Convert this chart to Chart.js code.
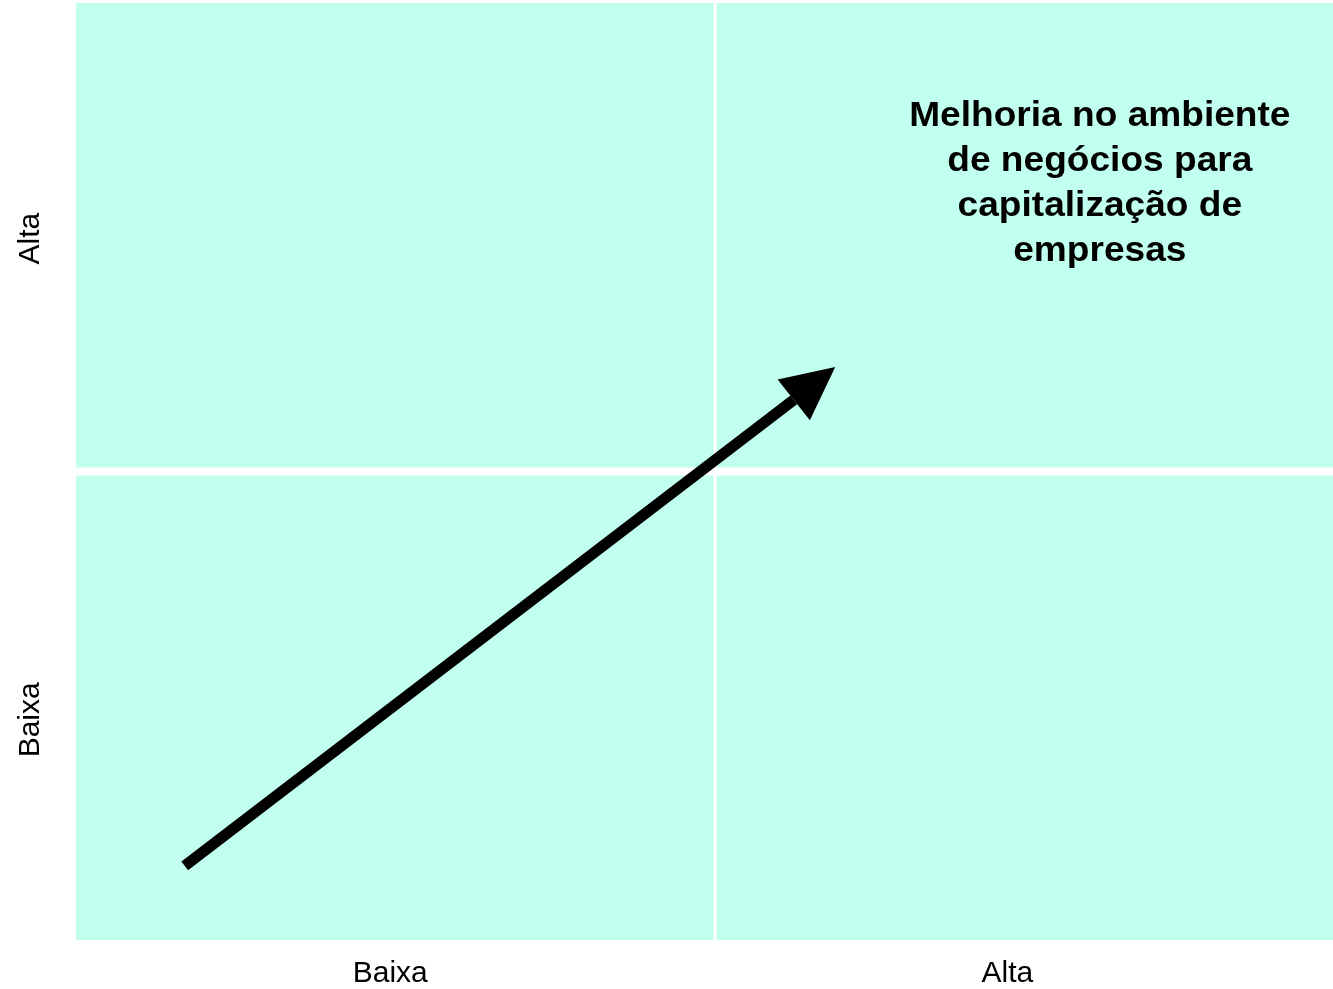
<!DOCTYPE html>
<html>
<head>
<meta charset="utf-8">
<script src="https://cdn.jsdelivr.net/npm/chart.js@4/dist/chart.umd.min.js"></script>
<style>
  body { margin: 0; background: #fff; }
  #wrap { width: 1333px; height: 989px; }
</style>
</head>
<body>
<div id="wrap"><canvas id="quadChart"></canvas></div>
<script>
// Axis categories (tick labels) and where they sit on the 0..2 scales
const xTickLabels = ['Baixa', 'Alta'];
const xTickValues = [0.5, 1.482];
const yTickLabels = ['Baixa', 'Alta'];
const yTickValues = [0.47, 1.497];

// Quadrant dividers
const xDivider = 1.017;
const yDivider = 1.0;

// Arrow: shaft start, shaft end, head tip
const arrowX = [0.173, 1.142, 1.208];
const arrowY = [0.158, 1.153, 1.223];

// Annotation in the top-right quadrant
const noteLines = ['Melhoria no ambiente', 'de negócios para', 'capitalização de', 'empresas'];
const noteX = 1.629;
const noteY = 1.759;

const mint = 'rgb(193, 255, 238)';
const fontFamily = '"Liberation Sans", Arial, sans-serif';

const shaftPoints = [0, 1].map(i => ({ x: arrowX[i], y: arrowY[i] }));

// Quadrant background, white dividers, y labels, arrow head and annotation
const quadrantPlugin = {
    id: 'quadrants',
    beforeDatasetsDraw(chart) {
        const { ctx, chartArea, scales } = chart;
        ctx.save();
        ctx.fillStyle = mint;
        ctx.fillRect(chartArea.left, chartArea.top, chartArea.right - chartArea.left, chartArea.bottom - chartArea.top);
        ctx.fillStyle = '#ffffff';
        const vx = scales.x.getPixelForValue(xDivider);
        ctx.fillRect(vx - 1.5, chartArea.top, 3, chartArea.bottom - chartArea.top);
        const hy = scales.y.getPixelForValue(yDivider);
        ctx.fillRect(chartArea.left, hy - 4, chartArea.right - chartArea.left, 8);

        // rotated y tick labels
        ctx.fillStyle = '#000';
        ctx.font = '30px ' + fontFamily;
        ctx.textAlign = 'center';
        ctx.textBaseline = 'alphabetic';
        yTickValues.forEach((v, i) => {
            ctx.save();
            ctx.translate(39, scales.y.getPixelForValue(v));
            ctx.rotate(-Math.PI / 2);
            ctx.fillText(yTickLabels[i], 0, 0);
            ctx.restore();
        });
        ctx.restore();
    },
    afterDatasetsDraw(chart) {
        const { ctx, scales } = chart;
        const bx = scales.x.getPixelForValue(arrowX[1]);
        const by = scales.y.getPixelForValue(arrowY[1]);
        const tx0 = scales.x.getPixelForValue(arrowX[2]);
        const ty0 = scales.y.getPixelForValue(arrowY[2]);
        const ang = Math.atan2(ty0 - by, tx0 - bx);
        const headHalf = 26;
        ctx.save();
        ctx.fillStyle = '#000';
        ctx.beginPath();
        ctx.moveTo(tx0, ty0);
        ctx.lineTo(bx + headHalf * Math.sin(ang), by - headHalf * Math.cos(ang));
        ctx.lineTo(bx - headHalf * Math.sin(ang), by + headHalf * Math.cos(ang));
        ctx.closePath();
        ctx.fill();

        // annotation text
        const tx = scales.x.getPixelForValue(noteX);
        const ty = scales.y.getPixelForValue(noteY);
        ctx.font = 'bold 35px ' + fontFamily;
        ctx.textAlign = 'center';
        ctx.textBaseline = 'middle';
        noteLines.forEach((line, i) => {
            ctx.save();
            ctx.translate(tx, ty + i * 45);
            ctx.scale(1.06, 1);
            ctx.fillText(line, 0, 0);
            ctx.restore();
        });
        ctx.restore();
    }
};

const ctx = document.getElementById('quadChart').getContext('2d');
new Chart(ctx, {
    type: 'scatter',
    data: {
        datasets: [{
            data: shaftPoints,
            showLine: true,
            borderColor: '#000',
            borderWidth: 11,
            borderCapStyle: 'butt',
            pointRadius: 0,
            pointHoverRadius: 0
        }]
    },
    options: {
        responsive: true,
        maintainAspectRatio: false,
        animation: false,
        events: [],
        layout: { padding: { top: 3, right: 0, left: 0, bottom: 0 } },
        plugins: {
            legend: { display: false },
            tooltip: { enabled: false }
        },
        scales: {
            x: {
                type: 'linear',
                min: 0,
                max: 2,
                grid: { display: false },
                border: { display: false },
                afterBuildTicks: scale => {
                    scale.ticks = xTickValues.map(v => ({ value: v }));
                },
                afterFit: scale => { scale.height = 49; },
                ticks: {
                    color: '#000',
                    padding: 8,
                    maxRotation: 0,
                    font: { family: fontFamily, size: 30 },
                    callback: (value, index) => xTickLabels[index]
                }
            },
            y: {
                type: 'linear',
                min: 0,
                max: 2,
                grid: { display: false },
                border: { display: false },
                afterFit: scale => { scale.width = 76; },
                ticks: { display: false }
            }
        }
    },
    plugins: [quadrantPlugin]
});
</script>
</body>
</html>
